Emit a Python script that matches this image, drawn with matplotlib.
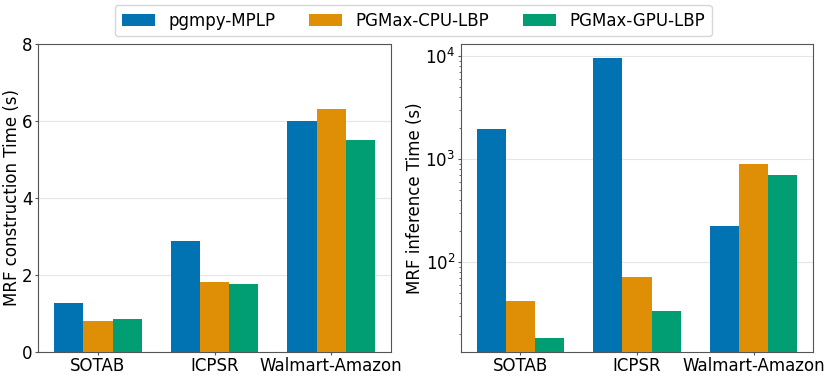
import numpy as np
import matplotlib
matplotlib.use("Agg")
import matplotlib.pyplot as plt

# Data
datasets = ["SOTAB", "ICPSR", "Walmart-Amazon"]
methods = ["pgmpy-MPLP", "PGMax-CPU-LBP", "PGMax-GPU-LBP"]
colors = ["#0173b2", "#de8f05", "#029e73"]

construction_time = [
    [1.28, 2.88, 6.0],   # pgmpy-MPLP
    [0.80, 1.81, 6.3],   # PGMax-CPU-LBP
    [0.85, 1.76, 5.5],   # PGMax-GPU-LBP
]
inference_time = [
    [1940, 9500, 222],   # pgmpy-MPLP
    [41.5, 72, 900],     # PGMax-CPU-LBP
    [18.3, 33.4, 700],   # PGMax-GPU-LBP
]

plt.rcParams["font.family"] = "DejaVu Sans"
plt.rcParams["font.size"] = 12

fig = plt.figure(figsize=(8.3, 3.78), dpi=100)
ax1 = fig.add_axes([0.046, 0.069, 0.425, 0.815])
ax2 = fig.add_axes([0.555, 0.069, 0.425, 0.815])

x = np.arange(len(datasets))
width = 0.25

for ax, data in [(ax1, construction_time), (ax2, inference_time)]:
    for i, (name, vals) in enumerate(zip(methods, data)):
        ax.bar(x + (i - 1) * width, vals, width, label=name, color=colors[i],
               linewidth=0, zorder=3)
    ax.set_xticks(x)
    ax.set_xticklabels(datasets)
    ax.grid(axis="y", which="major", color="#e6e6e6", linewidth=0.8, zorder=0)
    ax.set_axisbelow(True)
    ax.tick_params(which="major", length=2, pad=2, color="#555555")
    ax.tick_params(which="minor", length=1.5, color="#555555")
    for sp in ax.spines.values():
        sp.set_color("#555555")

ax1.set_ylim(0, 8)
ax1.set_yticks([0, 2, 4, 6, 8])
ax1.set_ylabel("MRF construction Time (s)", labelpad=1)

ax2.set_yscale("log")
ax2.set_ylim(13.4, 13090)
ax2.set_ylabel("MRF inference Time (s)", labelpad=1)

handles, labels = ax1.get_legend_handles_labels()
fig.legend(handles, labels, loc="upper center", ncol=3,
           bbox_to_anchor=(0.498, 1.0), borderaxespad=0.3, frameon=True,
           fontsize=12, columnspacing=2.0, handlelength=2.0)

fig.savefig("out.png", dpi=100)
